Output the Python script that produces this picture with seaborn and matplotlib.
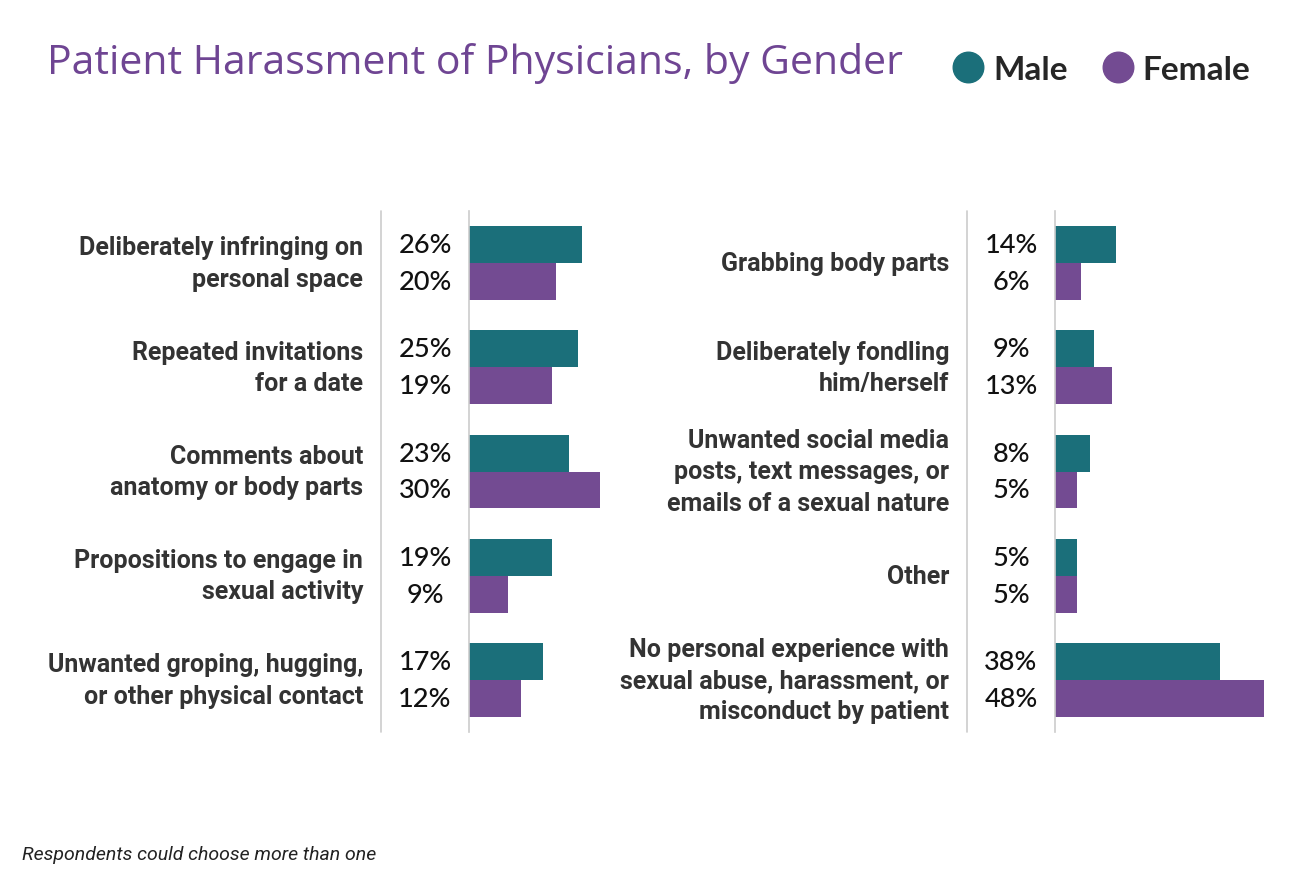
import matplotlib
matplotlib.use("Agg")
import matplotlib.pyplot as plt
from matplotlib.lines import Line2D
import seaborn as sns
import pandas as pd

# chart data
left_categories = ["Deliberately infringing on\npersonal space",
                   "Repeated invitations\nfor a date",
                   "Comments about\nanatomy or body parts",
                   "Propositions to engage in\nsexual activity",
                   "Unwanted groping, hugging,\nor other physical contact"]
left_male = [26, 25, 23, 19, 17]
left_female = [20, 19, 30, 9, 12]

right_categories = ["Grabbing body parts",
                    "Deliberately fondling\nhim/herself",
                    "Unwanted social media\nposts, text messages, or\nemails of a sexual nature",
                    "Other",
                    "No personal experience with\nsexual abuse, harassment, or\nmisconduct by patient"]
right_male = [14, 9, 8, 5, 38]
right_female = [6, 13, 5, 5, 48]

genders = ["Male", "Female"]
colors = {"Male": "#1b6f7a", "Female": "#734b92"}


def long_table(categories, male, female):
    rows = []
    for c, m, f in zip(categories, male, female):
        rows.append({"category": c, "gender": "Male", "pct": m})
        rows.append({"category": c, "gender": "Female", "pct": f})
    return pd.DataFrame(rows)


sns.set_style("white")
plt.rcParams['font.family'] = ['Lato', 'DejaVu Sans']

W, H = 1290, 878
fig = plt.figure(figsize=(W / 100, H / 100), dpi=100)

label_font = ['Roboto', 'DejaVu Sans']
grid_col = "#cccccc"

# axes positions in pixels: left edge, separator line
panels = [(469, 381, left_categories, left_male, left_female),
          (1055, 967, right_categories, right_male, right_female)]
top, bottom = 212, 733
px_per_pct = 4.35
ax_w = 230

for x0, sep, cats, male, female in panels:
    ax = fig.add_axes([x0 / W, (H - bottom) / H, ax_w / W, (bottom - top) / H])
    df = long_table(cats, male, female)
    sns.barplot(data=df, y="category", x="pct", hue="gender", order=cats,
                hue_order=genders, palette=colors, orient="h", width=0.71,
                saturation=1, legend=False, linewidth=0, ax=ax)
    ax.set_xlim(0, ax_w / px_per_pct)
    ax.set_ylim(len(cats) - 0.5, -0.5)
    ax.set_xlabel("")
    ax.set_ylabel("")
    ax.set_xticks([])
    ax.set_yticks([])
    for s in ["top", "right", "bottom"]:
        ax.spines[s].set_visible(False)
    ax.spines["left"].set_color(grid_col)
    ax.spines["left"].set_linewidth(1.2)

    # separator line left of the percent column
    fig.add_artist(Line2D([sep / W, sep / W], [(H - bottom) / H, (H - top) / H],
                          color=grid_col, lw=1.2))

    # percent labels, centred between separator and axis
    off = -(x0 - sep) / 2
    for cont in ax.containers:
        for bar in cont:
            val = bar.get_width()
            yc = bar.get_y() + bar.get_height() / 2
            ax.annotate(f"{val:.0f}%", xy=(0, yc), xytext=(off, 0),
                        textcoords="offset pixels", ha="center", va="center",
                        fontsize=19.5, fontweight="medium", color="#111111",
                        annotation_clip=False)

    # category labels
    for i, c in enumerate(cats):
        ax.annotate(c, xy=(0, i), xytext=(-106, 0), textcoords="offset pixels",
                    ha="right", va="center", multialignment="right",
                    fontsize=18, fontweight="bold", color="#333333",
                    family=label_font, linespacing=1.38, annotation_clip=False)

fig.text(47 / W, 1 - 64 / H, "Patient Harassment of Physicians, by Gender",
         fontsize=29.5, color="#6f4593", fontweight="normal",
         family=['Open Sans', 'DejaVu Sans'], ha="left", va="center")

handles = [Line2D([], [], marker="o", linestyle="", markersize=22,
                  markerfacecolor=colors[g], markeredgecolor=colors[g]) for g in genders]
fig.legend(handles, genders, loc="center", bbox_to_anchor=(1101 / W, 1 - 70 / H),
           ncol=2, frameon=False, handlelength=1.0, handletextpad=0.25,
           columnspacing=1.0, prop={"size": 24, "weight": "bold"})

fig.text(22 / W, 1 - 855 / H, "Respondents could choose more than one",
         fontsize=14, style="italic", color="#222222", family=['Roboto', 'DejaVu Sans'],
         ha="left", va="center")

fig.savefig("out.png", dpi=100, facecolor="white")
